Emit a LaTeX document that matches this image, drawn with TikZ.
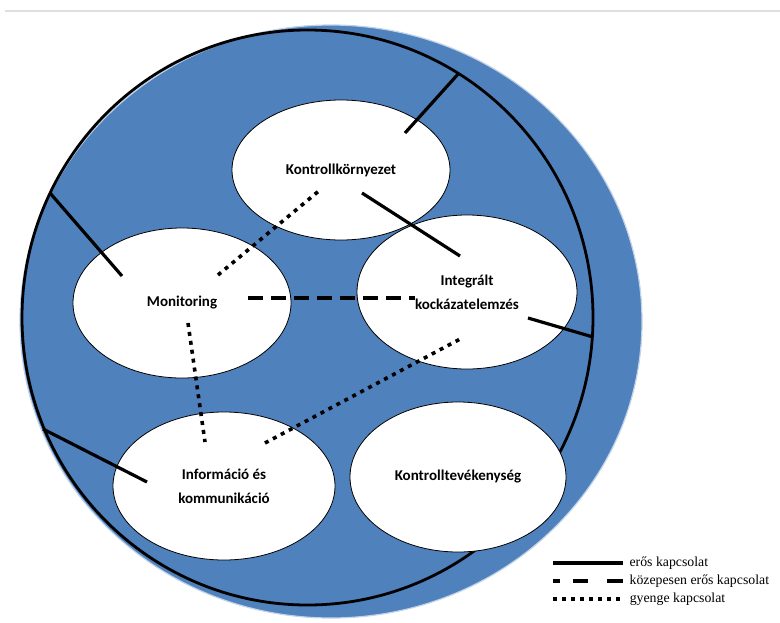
\documentclass[tikz,border=0pt]{standalone}
\usepackage{fontspec}
\setmainfont{Liberation Serif}
\newfontfamily\partfont{Carlito}
\usetikzlibrary{shapes.geometric}
\definecolor{ringblue}{RGB}{79,129,189}

\tikzset{
  part/.style={ellipse, draw=black, fill=white, line width=0.8pt, inner sep=0pt,
    align=center, font=\partfont\bfseries\fontsize{15}{24}\selectfont},
  strong/.style={line width=3.2pt},
  medium/.style={line width=3.2pt, dash pattern=on 15pt off 8pt},
  weak/.style={line width=3.6pt, dash pattern=on 4pt off 5pt},
  legtext/.style={anchor=west, inner sep=0pt, font=\fontsize{13.8}{16}\selectfont}
}

\begin{document}
\begin{tikzpicture}[x=1pt,y=-1pt]
\useasboundingbox (0,0) rectangle (780,622);
\draw[gray!25, line width=2pt] (5,11)--(780,11);

% outer ring
\draw[fill=ringblue, draw=ringblue!35, line width=1.2pt] (331,321.5) ellipse [x radius=311, y radius=296.5];
\draw[line width=2.8pt] (307.5,317.5) ellipse [x radius=285.5, y radius=287.5];

% the five parts
\node[part, minimum width=218pt, minimum height=140pt] (kk) at (341,170) {Kontrollkörnyezet};
\node[part, minimum width=218pt, minimum height=150pt] (mon) at (182,303) {Monitoring};
\node[part, minimum width=220pt, minimum height=154pt] (ikz) at (467,292) {Integrált\\kockázatelemzés};
\node[part, minimum width=222pt, minimum height=148pt] (ik) at (224,486) {Információ és\\kommunikáció};
\node[part, minimum width=216pt, minimum height=150pt] (ktv) at (458,477) {Kontrolltevékenység};

% end points of the links
\coordinate (kk-ring) at (405,133);
\coordinate (ring-kk) at (459,73);
\coordinate (kk-ikz) at (362,193);
\coordinate (ikz-kk) at (460,256);
\coordinate (mon-ring) at (122,276);
\coordinate (ring-mon) at (50,193);
\coordinate (ikz-ring) at (528,318);
\coordinate (ring-ikz) at (593,337);
\coordinate (ik-ring) at (147,482);
\coordinate (ring-ik) at (43,429);
\coordinate (mon-ikz) at (248,298);
\coordinate (ikz-mon) at (415,298);
\coordinate (mon-kk) at (218,275);
\coordinate (kk-mon) at (320,190);
\coordinate (mon-ik) at (188,323);
\coordinate (ik-mon) at (205,442);
\coordinate (ik-ikz) at (265,443);
\coordinate (ikz-ik) at (462,338);

% strong links
\draw[strong] (kk-ring)--(ring-kk);
\draw[strong] (kk-ikz)--(ikz-kk);
\draw[strong] (mon-ring)--(ring-mon);
\draw[strong] (ikz-ring)--(ring-ikz);
\draw[strong] (ik-ring)--(ring-ik);
% medium link
\draw[medium] (mon-ikz)--(ikz-mon);
% weak links
\draw[weak] (mon-kk)--(kk-mon);
\draw[weak] (mon-ik)--(ik-mon);
\draw[weak] (ik-ikz)--(ikz-ik);

% legend
\coordinate (l1) at (553,563);
\coordinate (l2) at (553,581);
\coordinate (l3) at (553,599);
\draw[strong] (l1)--++(70,0) node[legtext, xshift=5pt] (t1) {erős kapcsolat};
\draw[line width=3.2pt, dash pattern=on 7pt off 13pt on 15pt off 19pt on 16pt] (l2)--++(70,0) node[legtext, xshift=5pt] (t2) {közepesen erős kapcsolat};
\draw[weak] (l3)--++(70,0) node[legtext, xshift=5pt] (t3) {gyenge kapcsolat};
\end{tikzpicture}
\end{document}
